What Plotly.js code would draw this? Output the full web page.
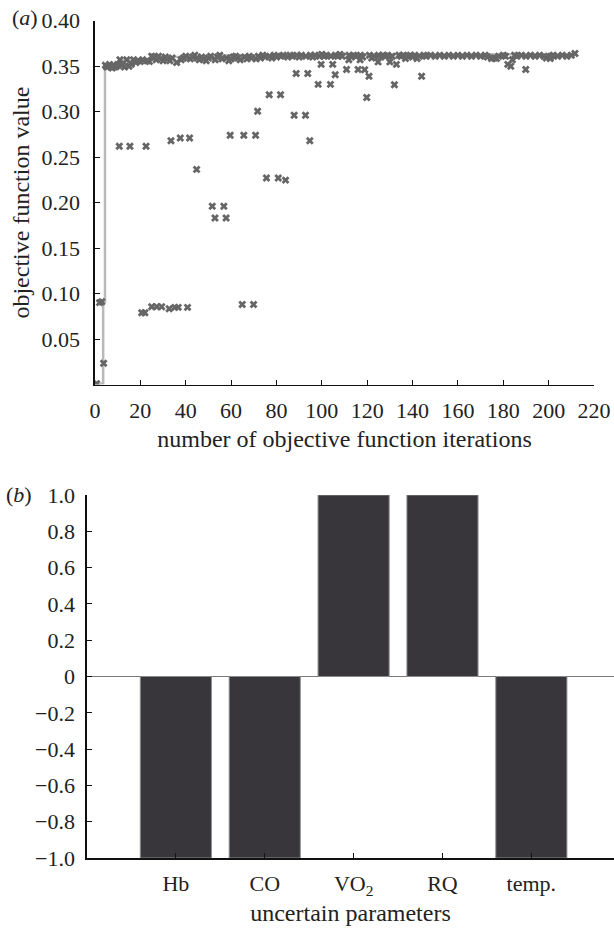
<!DOCTYPE html>
<html>
<head>
<meta charset="utf-8">
<script src="https://cdn.plot.ly/plotly-3.0.1.min.js"></script>
<style>html,body{margin:0;padding:0;background:#fff;}#chart{width:614px;height:928px;}</style>
</head>
<body>
<div id="chart"></div>
<script>
// Panel (a): objective function value per iteration
const iterX = [
  0.7, 2.0, 3.0, 3.8,
  4.6, 5.2, 5.8, 6.4, 7.0, 7.6, 8.2, 8.8, 9.4, 10.0, 11.0, 12.0, 13.0, 14.0, 15.0, 16.0, 17.0, 18.0, 19.0, 20.0,
  21.0, 23.0, 24.0, 25.0, 26.0, 27.0, 28.0, 29.0, 30.0, 31.0, 32.0, 33.0, 34.0, 36.0, 38.0, 39.0, 40.0,
  42, 43, 44, 45, 46, 47, 48, 49, 50, 51, 53, 54, 55, 56, 58, 59, 60, 61, 62, 63, 64, 66, 67, 68, 69,
  71, 72, 73, 74, 75, 77, 78, 79, 80, 82, 83, 85, 86, 87, 89, 90, 91, 93, 95, 96, 97, 99, 100, 101, 102,
  104, 106, 107, 108, 109, 112, 113, 114, 115, 117, 118, 121, 122, 123, 125, 126, 127, 128, 129, 131,
  134, 135, 136, 138, 139, 140, 141, 143, 145, 146, 148, 150, 152, 154, 156, 158, 160, 162, 164, 166,
  168, 170, 172, 173, 176, 178, 180, 181, 185, 186, 188, 190, 192, 194, 196, 198, 199, 201, 202, 204,
  206, 208, 210, 211.6,
  10.7, 15.4, 22.5, 33.5, 37.6, 41.7, 44.8, 59.6, 65.6, 70.8, 71.7, 76.8, 81.8, 75.6, 80.8, 84.0,
  87.8, 92.8, 94.7, 88.7, 93.8, 98.4, 103.8, 99.7, 104.8, 105.9, 110.9, 111.9, 116.0, 116.9, 118.9,
  120.8, 119.8, 124.8, 130.0, 132.0, 132.9, 136.9, 142.0, 144.0, 174.8, 177.0, 182.0, 183.3, 184.0,
  189.9, 200.7,
  20.6, 22.0, 25.0, 27.2, 29.4, 32.7, 35.2, 36.7, 40.8, 51.7, 56.8, 52.9, 57.8, 64.9, 69.9
];
const objVal = [
  0.001, 0.090, 0.091, 0.0233,
  0.351, 0.349, 0.350, 0.352, 0.350, 0.348, 0.351, 0.349, 0.350, 0.352, 0.357, 0.351, 0.349, 0.357, 0.350, 0.352, 0.357, 0.354, 0.356, 0.355,
  0.357, 0.356, 0.355, 0.361, 0.360, 0.357, 0.361, 0.358, 0.356, 0.360, 0.358, 0.356, 0.359, 0.354, 0.357, 0.359, 0.361,
  0.358, 0.360, 0.362, 0.359, 0.357, 0.360, 0.358, 0.356, 0.359, 0.361, 0.357, 0.360, 0.362, 0.358, 0.359, 0.356, 0.358, 0.360, 0.361, 0.359, 0.357, 0.360, 0.358, 0.361, 0.359,
  0.358, 0.361, 0.359, 0.362, 0.360, 0.361, 0.359, 0.362, 0.360, 0.361, 0.362, 0.360, 0.362, 0.361, 0.362, 0.360, 0.362, 0.361, 0.362, 0.360, 0.362, 0.361, 0.363, 0.361, 0.362,
  0.361, 0.362, 0.361, 0.363, 0.361, 0.362, 0.360, 0.362, 0.361, 0.362, 0.360, 0.362, 0.359, 0.361, 0.362, 0.360, 0.362, 0.361, 0.362, 0.361,
  0.362, 0.361, 0.362, 0.361, 0.362, 0.360, 0.362, 0.361, 0.362, 0.361, 0.362, 0.361, 0.362, 0.361, 0.362, 0.361, 0.362, 0.361, 0.362, 0.361,
  0.362, 0.361, 0.362, 0.360, 0.359, 0.361, 0.362, 0.361, 0.362, 0.361, 0.362, 0.361, 0.362, 0.361, 0.362, 0.361, 0.359, 0.361, 0.362, 0.361,
  0.362, 0.361, 0.362, 0.364,
  0.262, 0.262, 0.262, 0.268, 0.271, 0.271, 0.2365, 0.274, 0.274, 0.274, 0.3005, 0.3185, 0.3185, 0.227, 0.227, 0.2247,
  0.296, 0.296, 0.268, 0.342, 0.342, 0.330, 0.330, 0.352, 0.352, 0.3405, 0.3464, 0.357, 0.3464, 0.357, 0.346,
  0.339, 0.3156, 0.3547, 0.3547, 0.3295, 0.352, 0.3585, 0.3585, 0.339, 0.3585, 0.3585, 0.352, 0.350, 0.357,
  0.3464, 0.3585,
  0.0789, 0.0789, 0.0855, 0.0855, 0.0855, 0.0833, 0.0848, 0.0848, 0.0848, 0.196, 0.196, 0.183, 0.183, 0.088, 0.088
];
// best-so-far curve
const bestX = [0.7, 3.6, 4.4, 11.0, 26.0, 55.0, 100.0, 211.6];
const bestY = [0.001, 0.091, 0.352, 0.357, 0.360, 0.362, 0.363, 0.364];
const xTicksA = [0, 20, 40, 60, 80, 100, 120, 140, 160, 180, 200, 220];
const yTicksA = [0.05, 0.10, 0.15, 0.20, 0.25, 0.30, 0.35, 0.40];
const yTickTextA = ['0.05', '0.10', '0.15', '0.20', '0.25', '0.30', '0.35', '0.40'];

// Panel (b): uncertain parameters
const paramNames = ['Hb', 'CO', 'VO<sub>2</sub>', 'RQ', 'temp.'];
const paramPos = [1, 2, 3, 4, 5];
const paramVals = [-1, -1, 1, 1, -1];
const yTicksB = [-1, -0.8, -0.6, -0.4, -0.2, 0, 0.2, 0.4, 0.6, 0.8, 1.0];
const yTickTextB = ['\u22121.0', '\u22120.8', '\u22120.6', '\u22120.4', '\u22120.2', '0', '0.2', '0.4', '0.6', '0.8', '1.0'];

const W = 614, H = 928;
const px = v => v / W;
const py = v => (H - v) / H;
const FONT = "'Liberation Serif', 'Times New Roman', serif";
const fs = 22;
const fsT = 24;

const traces = [
  {x: bestX, y: bestY, type: 'scatter', mode: 'lines', line: {color: '#b9b9b9', width: 2.5, shape: 'hv'}, xaxis: 'x', yaxis: 'y', hoverinfo: 'skip'},
  {x: iterX, y: objVal, type: 'scatter', mode: 'markers', marker: {symbol: 'x', size: 7, color: '#666666', line: {width: 0}}, xaxis: 'x', yaxis: 'y'},
  {x: paramPos, y: paramVals, type: 'bar', width: 0.8, marker: {color: '#38363a', line: {color: '#8a8a8a', width: 1}}, xaxis: 'x2', yaxis: 'y2'}
];

const axCommon = {showline: true, linecolor: '#111', linewidth: 1.6, ticks: 'inside', ticklen: 5, tickwidth: 1, tickcolor: '#111',
  showgrid: false, zeroline: false, tickfont: {family: FONT, size: fs, color: '#222'}};

const layout = {
  width: W, height: H,
  margin: {l: 0, r: 0, t: 0, b: 0},
  paper_bgcolor: '#fff', plot_bgcolor: '#fff',
  showlegend: false,
  font: {family: FONT, color: '#222'},
  xaxis: Object.assign({}, axCommon, {
    domain: [px(95), px(594)], range: [0, 220], anchor: 'y',
    tickvals: xTicksA, ticktext: xTicksA.map(String), ticklabelstandoff: 5,
    title: {text: 'number of objective function iterations', font: {family: FONT, size: fsT, color: '#222'}, standoff: 8}
  }),
  yaxis: Object.assign({}, axCommon, {
    domain: [py(384.5), py(20.7)], range: [0, 0.40], anchor: 'x',
    tickvals: yTicksA, ticktext: yTickTextA, ticklabelstandoff: 9,
    title: {text: 'objective function value', font: {family: FONT, size: fsT, color: '#222'}, standoff: 5}
  }),
  xaxis2: Object.assign({}, axCommon, {
    domain: [px(87), 1], range: [0, 5.93], anchor: 'y2',
    tickvals: paramPos, ticktext: paramNames, ticklabelstandoff: 5,
    title: {text: 'uncertain parameters', font: {family: FONT, size: fsT, color: '#222'}, standoff: 6}
  }),
  yaxis2: Object.assign({}, axCommon, {
    domain: [py(858), py(495)], range: [-1, 1], anchor: 'x2',
    tickvals: yTicksB, ticktext: yTickTextB, ticklabelstandoff: 6,
    zeroline: true, zerolinecolor: '#7a7a7a', zerolinewidth: 1.6
  }),
  annotations: [
    {text: '(<i>a</i>)', xref: 'paper', yref: 'paper', x: px(10), y: py(18), xanchor: 'left', yanchor: 'middle', showarrow: false, font: {family: FONT, size: fs, color: '#222'}},
    {text: '(<i>b</i>)', xref: 'paper', yref: 'paper', x: px(4), y: py(494), xanchor: 'left', yanchor: 'middle', showarrow: false, font: {family: FONT, size: fs, color: '#222'}}
  ]
};

Plotly.newPlot('chart', traces, layout, {displayModeBar: false, staticPlot: true});
</script>
</body>
</html>
